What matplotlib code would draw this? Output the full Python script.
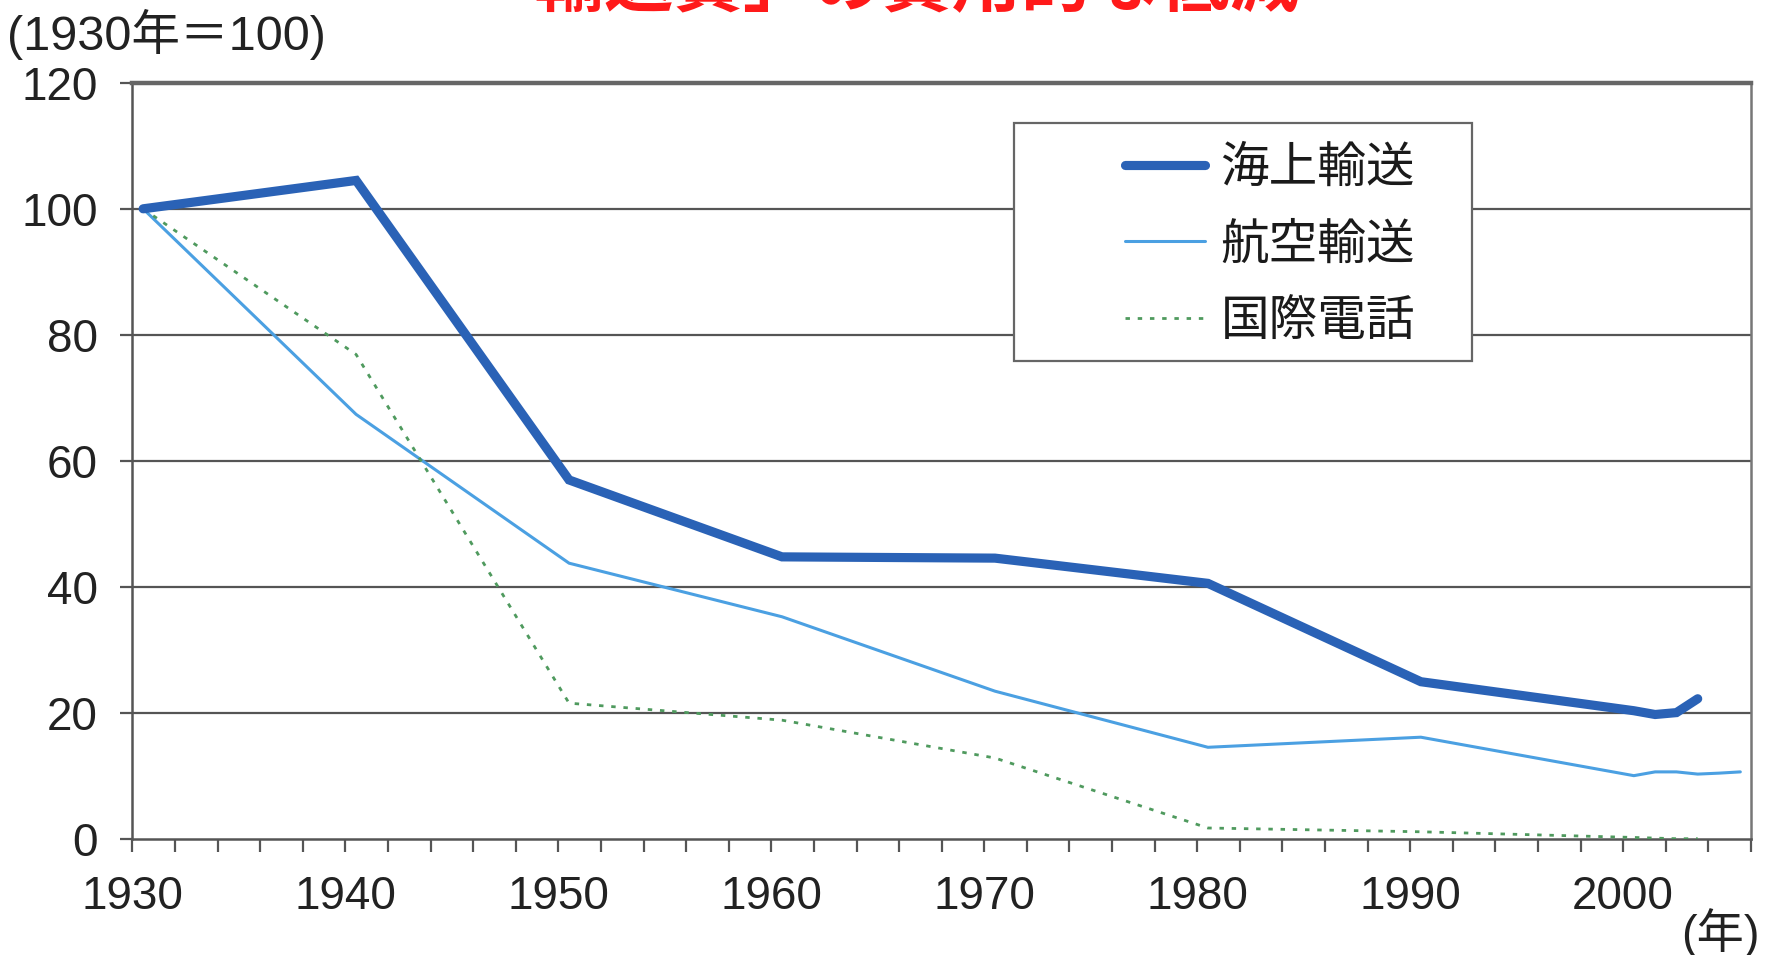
import matplotlib
matplotlib.use("Agg")
import matplotlib.pyplot as plt
from matplotlib.patches import Rectangle
import numpy as np

plt.rcParams['font.family'] = ['Liberation Sans', 'Noto Sans CJK JP', 'DejaVu Sans']

# Index values (1930 = 100)
sea_years = [1930, 1940, 1950, 1960, 1970, 1980, 1990, 2000, 2001, 2002, 2003]
sea_values = [100, 104.5, 57.0, 44.8, 44.6, 40.6, 25.0, 20.4, 19.8, 20.1, 22.3]

air_years = [1930, 1940, 1950, 1960, 1970, 1980, 1990, 2000, 2001, 2002, 2003, 2004, 2005]
air_values = [100, 67.4, 43.8, 35.3, 23.5, 14.6, 16.2, 10.1, 10.7, 10.7, 10.35, 10.5, 10.7]

tel_years = [1930, 1940, 1950, 1960, 1970, 1980, 1990, 2000, 2001, 2002, 2003]
tel_values = [100, 76.9, 21.6, 18.9, 12.9, 1.8, 1.2, 0.3, 0.2, 0.1, 0.1]

series_labels = ['海上輸送', '航空輸送', '国際電話']
title_text = '「輸送費」の費用的な低減'
unit_y = '(1930年＝100)'
unit_x = '(年)'

yticks = [0, 20, 40, 60, 80, 100, 120]
xticks_major = [1930, 1940, 1950, 1960, 1970, 1980, 1990, 2000]

MID = 0.5  # annual figures are plotted at mid-year

fig = plt.figure(figsize=(17.76, 9.55), dpi=100)
ax = fig.add_axes([0.0746, 0.1211, 0.9113, 0.7923])

sea_c = '#2a62b6'
air_c = '#4ba0e2'
tel_c = '#4f9a5e'

ax.plot(np.array(sea_years) + MID, sea_values, color=sea_c, lw=6.6,
        solid_capstyle='round', solid_joinstyle='miter', label=series_labels[0], zorder=4)
ax.plot(np.array(air_years) + MID, air_values, color=air_c, lw=2.2,
        solid_capstyle='round', label=series_labels[1], zorder=3)
ax.plot(np.array(tel_years) + MID, tel_values, color=tel_c, lw=2.0,
        linestyle=(0, (1.6, 2.8)), label=series_labels[2], zorder=3)

ax.set_xlim(1930, 2006)
ax.set_ylim(0, 120)

# grid lines
for v in yticks[1:-1]:
    ax.axhline(v, color='#555555', lw=1.6, zorder=1)

for side in ['left', 'bottom']:
    ax.spines[side].set_color('#555555')
    ax.spines[side].set_linewidth(1.8)
ax.spines['top'].set_color('#666666')
ax.spines['top'].set_linewidth(3.2)
ax.spines['right'].set_color('#777777')
ax.spines['right'].set_linewidth(1.8)

ax.set_yticks(yticks)
ax.set_yticklabels([str(v) for v in yticks])
ax.set_xticks(xticks_major)
ax.set_xticklabels([str(v) for v in xticks_major])
ax.set_xticks(np.arange(1930, 2007, 2), minor=True)
ax.tick_params(axis='y', direction='out', length=9, width=1.6, color='#555555',
               labelsize=33, pad=16, labelcolor='#222222')
ax.tick_params(axis='x', which='both', direction='out', length=9, width=1.6,
               color='#555555', labelsize=33, pad=17, labelcolor='#222222')
ax.tick_params(axis='x', which='minor', labelbottom=False)

# legend with a plain rectangular frame
frame = Rectangle((0.5449, 0.6316), 0.2830, 0.3146, transform=ax.transAxes,
                  facecolor='white', edgecolor='#666666', lw=1.6, zorder=5)
ax.add_patch(frame)
leg = ax.legend(loc='upper left', bbox_to_anchor=(0.6130, 0.920), frameon=False,
                prop={'family': ['Noto Sans CJK JP'], 'size': 35},
                handlelength=1.65, handletextpad=0.32, labelspacing=0.56,
                borderaxespad=0, borderpad=0)
leg.set_zorder(6)
for t in leg.get_texts():
    t.set_color('#1a1a1a')

fig.text(0.004, 1 - 34 / 955, unit_y, fontsize=35, va='center', ha='left',
         color='#222222')
fig.text(1 - 16 / 1776, 1 - 933 / 955, unit_x, fontsize=34, va='center', ha='right',
         color='#222222')
fig.text(0.497, 1 - 6 / 955, title_text, fontsize=50, va='baseline', ha='center',
         family=['Noto Sans CJK JP'], color='#ff1a1a', fontweight='bold')

fig.savefig('out.png', dpi=100, facecolor='white')
